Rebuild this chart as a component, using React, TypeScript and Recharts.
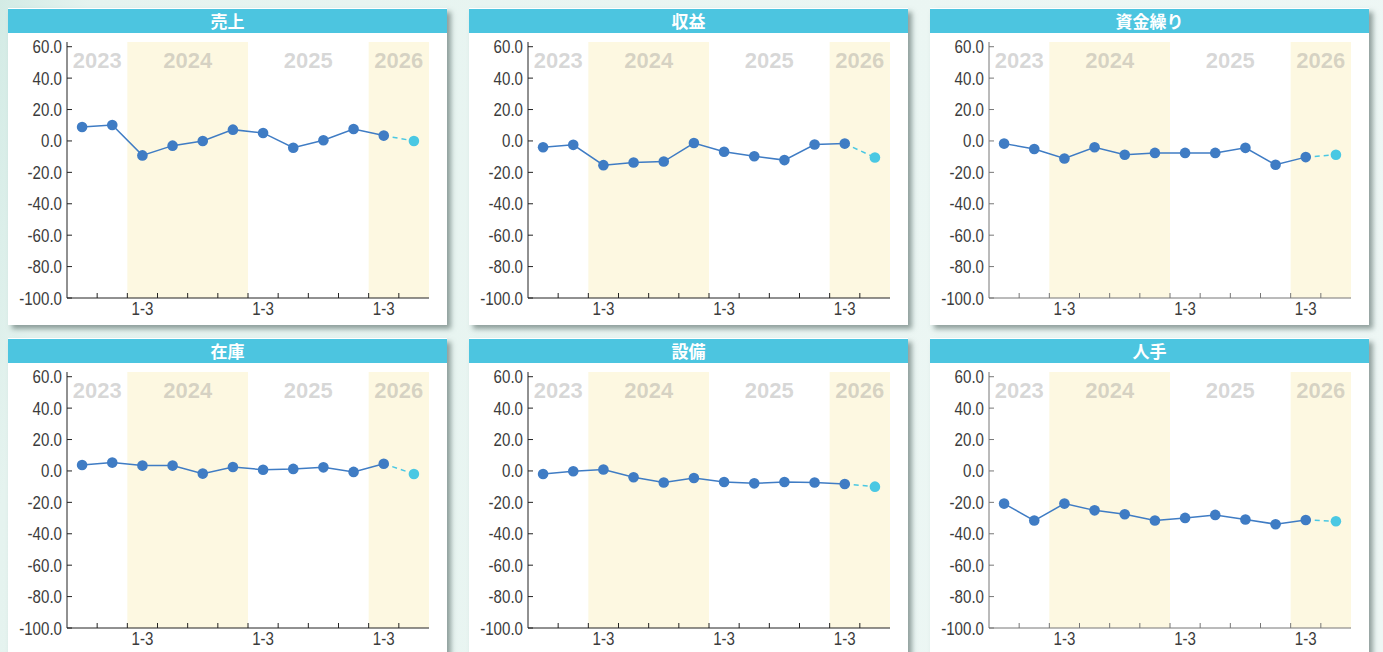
import React from "react";
import { LineChart, Line, XAxis, YAxis, ReferenceArea } from "recharts";

// quarters on the x axis (2023 Q3 .. 2026 Q2), last one is the forecast
const QUARTERS = [
  "2023 7-9", "2023 10-12",
  "2024 1-3", "2024 4-6", "2024 7-9", "2024 10-12",
  "2025 1-3", "2025 4-6", "2025 7-9", "2025 10-12",
  "2026 1-3", "2026 4-6",
];
const QUARTER_LABELS = ["", "", "1-3", "", "", "", "1-3", "", "", "", "1-3", ""];
const FORECAST_INDEX = 11;

const YEARS = ["2023", "2024", "2025", "2026"];
const YEAR_FROM = ["2023 7-9", "2024 1-3", "2025 1-3", "2026 1-3"];
const YEAR_TO = ["2023 10-12", "2024 10-12", "2025 10-12", "2026 4-6"];
const YEAR_SHADED = [false, true, false, true];

const Y_TICKS = [60, 40, 20, 0, -20, -40, -60, -80, -100];

const TITLES = ["売上", "収益", "資金繰り", "在庫", "設備", "人手"];
const SALES = [8.9, 10.2, -9.2, -3.0, 0.0, 7.2, 5.1, -4.3, 0.4, 7.6, 3.4, 0.0];
const PROFIT = [-4.0, -2.5, -15.4, -13.7, -13.1, -1.3, -6.9, -9.7, -12.2, -2.3, -1.7, -10.5];
const CASHFLOW = [-1.7, -5.1, -11.2, -4.0, -8.8, -7.6, -7.6, -7.6, -4.4, -15.2, -10.3, -8.8];
const INVENTORY = [3.8, 5.3, 3.4, 3.4, -1.7, 2.5, 0.8, 1.3, 2.3, -0.6, 4.6, -1.9];
const EQUIPMENT = [-1.9, -0.2, 0.9, -4.0, -7.4, -4.5, -7.0, -7.9, -7.0, -7.4, -8.3, -10.0];
const STAFF = [-20.8, -31.6, -20.8, -25.1, -27.6, -31.6, -29.9, -28.0, -30.9, -33.9, -31.2, -32.0];
const SERIES = [SALES, PROFIT, CASHFLOW, INVENTORY, EQUIPMENT, STAFF];

const CYAN = "#4cc5e0";
const BLUE = "#3f7cc4";
const FORECAST = "#4ac8e3";
const YELLOW = "#fdf8e1";
const TEXT = "#3c3c3c";
const AXIS_FONT = "'Liberation Sans', Arial, sans-serif";

const PANEL_W = 439;
const PANEL_H = 317;
const TITLE_H = 24;

// condensed-looking tick text
function NarrowText({ x, y, anchor, children }: any) {
  return (
    <text
      transform={`translate(${x},${y}) scale(0.84,1)`}
      textAnchor={anchor}
      fill={TEXT}
      fontSize={18}
      fontFamily={AXIS_FONT}
    >
      {children}
    </text>
  );
}

function YTick(props: any) {
  const { x, y, payload, stroke } = props;
  return (
    <g>
      <line x1={x} x2={x + 5} y1={y} y2={y} stroke={stroke} />
      <NarrowText x={x - 5} y={y + 6.5} anchor="end">
        {Number(payload.value).toFixed(1)}
      </NarrowText>
    </g>
  );
}

function XTick(props: any) {
  const { x, y, payload, index, stroke } = props;
  const half = payload.offset || 15;
  const label = QUARTER_LABELS[index];
  return (
    <g>
      {index > 0 && <line x1={x - half} x2={x - half} y1={y} y2={y - 5} stroke={stroke} />}
      {label && (
        <NarrowText x={x} y={y + 17} anchor="middle">
          {label}
        </NarrowText>
      )}
    </g>
  );
}

function forecastDot(p: any) {
  if (p.index !== FORECAST_INDEX || p.cy == null) return <g key={`fd-${p.index}`} />;
  return <circle key={`fd-${p.index}`} cx={p.cx} cy={p.cy} r={5.3} fill={FORECAST} />;
}

function Panel({ title, values, axisColor }: { title: string; values: number[]; axisColor: string }) {
  const data = QUARTERS.map((q, i) => ({
    q,
    actual: i < FORECAST_INDEX ? values[i] : null,
    forecast: i >= FORECAST_INDEX - 1 ? values[i] : null,
  }));

  return (
    <div
      style={{
        width: PANEL_W,
        height: PANEL_H,
        background: "#fff",
        boxSizing: "border-box",
        paddingTop: 1,
        boxShadow: "4px 4px 5px rgba(70,90,85,0.55)",
      }}
    >
      <div
        style={{
          height: TITLE_H,
          lineHeight: `${TITLE_H}px`,
          background: CYAN,
          color: "#fff",
          textAlign: "center",
          fontWeight: 700,
          fontSize: 17,
          fontFamily: "'Noto Sans CJK JP', sans-serif",
        }}
      >
        {title}
      </div>
      <LineChart
        width={PANEL_W}
        height={PANEL_H - TITLE_H - 1}
        data={data}
        margin={{ top: 9, right: 18, bottom: 0, left: 0 }}
      >
        {YEARS.map((yr, i) => (
          <ReferenceArea
            key={yr}
            x1={YEAR_FROM[i]}
            x2={YEAR_TO[i]}
            ifOverflow="visible"
            fill={YEAR_SHADED[i] ? YELLOW : "#fff"}
            fillOpacity={1}
            stroke="none"
            label={{
              value: yr,
              position: "insideTop",
              offset: 10,
              fill: "#8c8c8c",
              fillOpacity: 0.35,
              fontSize: 22,
              fontWeight: 700,
              fontFamily: "'Liberation Sans', Arial, sans-serif",
            }}
          />
        ))}
        <XAxis
          dataKey="q"
          scale="band"
          height={27}
          interval={0}
          tickSize={0}
          tickMargin={0}
          tickLine={false}
          tick={<XTick stroke={axisColor} />}
          axisLine={{ stroke: axisColor }}
        />
        <YAxis
          type="number"
          domain={[-100, 63]}
          ticks={Y_TICKS}
          interval={0}
          width={59}
          tickSize={0}
          tickMargin={0}
          tickLine={false}
          allowDataOverflow
          tick={<YTick stroke={axisColor} />}
          axisLine={{ stroke: axisColor }}
        />
        <Line
          dataKey="forecast"
          stroke={FORECAST}
          strokeWidth={1.5}
          strokeDasharray="5 4"
          dot={forecastDot}
          activeDot={false}
          isAnimationActive={false}
        />
        <Line
          dataKey="actual"
          stroke={BLUE}
          strokeWidth={1.5}
          dot={{ r: 5.3, fill: BLUE, stroke: "none" }}
          activeDot={false}
          isAnimationActive={false}
        />
      </LineChart>
    </div>
  );
}

export default function App() {
  return (
    <div
      style={{
        width: 1383,
        height: 652,
        boxSizing: "border-box",
        padding: 8,
        overflow: "hidden",
        background: "linear-gradient(100deg, #d3ebe5 0%, #e5f3ef 6%, #ebf6f3 60%, #eef7f5 100%)",
      }}
    >
      <style>{"body{margin:0}"}</style>
      <div
        style={{
          display: "grid",
          gridTemplateColumns: `repeat(3, ${PANEL_W}px)`,
          columnGap: 22,
          rowGap: 13,
        }}
      >
        {TITLES.map((t, i) => (
          <Panel key={t} title={t} values={SERIES[i]} axisColor={i % 3 === 2 ? "#777" : "#222"} />
        ))}
      </div>
    </div>
  );
}
